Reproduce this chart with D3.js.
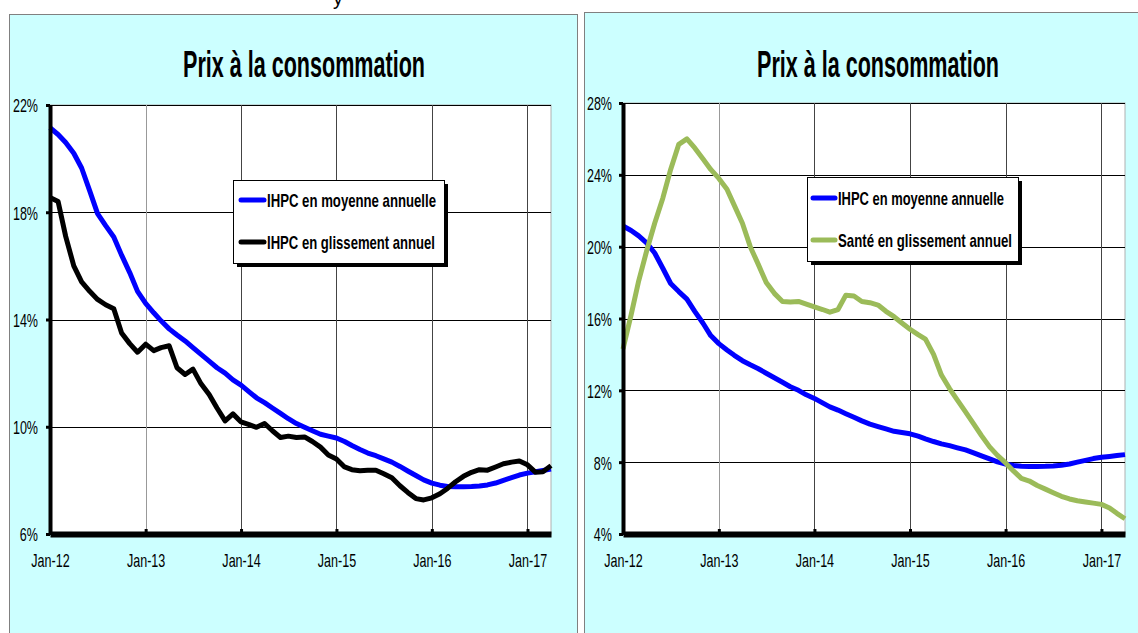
<!DOCTYPE html>
<html>
<head>
<meta charset="utf-8">
<script src="https://cdn.jsdelivr.net/npm/d3@7"></script>
<style>
body { margin: 0; background: #fff; }
svg { display: block; font-family: "Liberation Sans", Arial, sans-serif; }
</style>
</head>
<body>
<div id="chart"></div>
<script>
// monthly values, Jan-12 .. Apr-17 (64 months), in %
var ihpcMoyenne = [21.15, 20.9, 20.6, 20.2, 19.65, 18.8, 17.95, 17.5, 17.08, 16.4,
    15.75, 15.05, 14.6, 14.25, 13.95, 13.65, 13.42, 13.2, 12.95, 12.7,
    12.45, 12.2, 12.0, 11.75, 11.55, 11.3, 11.08, 10.9, 10.7, 10.5,
    10.3, 10.12, 9.98, 9.85, 9.72, 9.65, 9.58, 9.45, 9.3, 9.15,
    9.02, 8.92, 8.8, 8.68, 8.52, 8.35, 8.18, 8.02, 7.9, 7.82,
    7.77, 7.76, 7.76, 7.77, 7.79, 7.83, 7.9, 8.0, 8.1, 8.2,
    8.27, 8.32, 8.37, 8.42];
var ihpcGlissement = [18.55, 18.4, 17.1, 16.0, 15.4, 15.05, 14.75, 14.55, 14.4, 13.5,
    13.1, 12.78, 13.08, 12.84, 12.95, 13.02, 12.2, 11.95, 12.15, 11.6,
    11.2, 10.7, 10.22, 10.48, 10.18, 10.08, 9.98, 10.12, 9.85, 9.6,
    9.65, 9.6, 9.62, 9.45, 9.24, 8.95, 8.8, 8.5, 8.4, 8.36,
    8.38, 8.38, 8.25, 8.1, 7.8, 7.55, 7.32, 7.27, 7.35, 7.5,
    7.7, 7.95, 8.15, 8.3, 8.4, 8.38, 8.5, 8.62, 8.68, 8.72,
    8.58, 8.3, 8.32, 8.55];
var santeGlissement = [14.3, 16.2, 18.1, 19.8, 21.3, 22.7, 24.3, 25.7, 26.0, 25.5,
    24.9, 24.3, 23.8, 23.2, 22.3, 21.3, 20.0, 19.0, 18.0, 17.4,
    16.95, 16.92, 16.95, 16.8, 16.65, 16.5, 16.35, 16.5, 17.3, 17.25,
    16.95, 16.88, 16.75, 16.4, 16.1, 15.75, 15.4, 15.1, 14.85, 14.0,
    12.85, 12.1, 11.45, 10.8, 10.13, 9.48, 8.85, 8.38, 7.96, 7.5,
    7.1, 6.95, 6.7, 6.5, 6.3, 6.1, 5.95, 5.85, 5.78, 5.72,
    5.65, 5.45, 5.15, 4.85];

var months = d3.timeMonth.range(new Date(2012, 0, 1), new Date(2017, 4, 1));
var xTickDates = [new Date(2012, 0, 1), new Date(2013, 0, 1), new Date(2014, 0, 1),
    new Date(2015, 0, 1), new Date(2016, 0, 1), new Date(2017, 0, 1)];
var xTickLabels = ["Jan-12", "Jan-13", "Jan-14", "Jan-15", "Jan-16", "Jan-17"];
var leftTicks = [6, 10, 14, 18, 22];
var rightTicks = [4, 8, 12, 16, 20, 24, 28];
var titleText = "Prix à la consommation";
var leftLegend = ["IHPC en moyenne annuelle", "IHPC en glissement annuel"];
var rightLegend = ["IHPC en moyenne annuelle", "Santé en glissement annuel"];

var W = 1138, H = 633;
var svg = d3.select("#chart").append("svg")
    .attr("width", W)
    .attr("height", H);

// squeeze text horizontally (narrow font look)
function squeeze(sel, k) {
    sel.each(function () {
        var n = this.getComputedTextLength();
        d3.select(this).attr("textLength", n * k).attr("lengthAdjust", "spacingAndGlyphs");
    });
}

// cut off heading above the panels
svg.append("text")
    .attr("x", 333).attr("y", 5)
    .style("font-size", "20px")
    .text("y");

function drawPanel(cfg) {
    var g = svg.append("g");

    g.append("rect")
        .attr("x", cfg.panel.x + 0.5).attr("y", cfg.panel.y + 0.5)
        .attr("width", cfg.panel.w).attr("height", cfg.panel.h)
        .attr("fill", "#ccffff")
        .attr("stroke", "#808080");

    g.append("text")
        .attr("x", cfg.titleX).attr("y", 77)
        .attr("text-anchor", "middle")
        .attr("textLength", 242).attr("lengthAdjust", "spacingAndGlyphs")
        .style("font-size", "36px").style("font-weight", "bold")
        .text(titleText);

    var x = d3.scaleTime()
        .domain([months[0], months[months.length - 1]])
        .range([cfg.plot.x0, cfg.plot.x1]);
    var y = d3.scaleLinear()
        .domain(cfg.yDomain)
        .range([cfg.plot.y1, cfg.plot.y0]);

    g.append("rect")
        .attr("x", cfg.plot.x0).attr("y", cfg.plot.y0)
        .attr("width", cfg.plot.x1 - cfg.plot.x0).attr("height", cfg.plot.y1 - cfg.plot.y0)
        .attr("fill", "#fff")
        .attr("stroke", "#b0b0b0");

    // gridlines
    g.append("g").selectAll("line")
        .data(cfg.yTicks)
        .enter().append("line")
        .attr("x1", cfg.plot.x0).attr("x2", cfg.plot.x1)
        .attr("y1", function (d) { return Math.round(y(d)) + 0.5; })
        .attr("y2", function (d) { return Math.round(y(d)) + 0.5; })
        .attr("stroke", "#000");
    g.append("g").selectAll("line")
        .data(xTickDates.slice(1))
        .enter().append("line")
        .attr("x1", function (d) { return Math.round(x(d)) + 0.5; })
        .attr("x2", function (d) { return Math.round(x(d)) + 0.5; })
        .attr("y1", cfg.plot.y0).attr("y2", cfg.plot.y1)
        .attr("stroke", function (d, i) { return i == 0 ? "#999" : "#444"; });

    // series
    var line = d3.line()
        .x(function (d, i) { return x(months[i]); })
        .y(function (d) { return y(d); });
    cfg.series.forEach(function (s) {
        g.append("path")
            .datum(s.data)
            .attr("d", line)
            .attr("fill", "none")
            .attr("stroke", s.color)
            .attr("stroke-width", 5)
            .attr("stroke-linejoin", "round");
    });

    // axes
    var yAxis = g.append("g")
        .attr("transform", "translate(" + cfg.plot.x0 + ",0)")
        .call(d3.axisLeft(y).tickValues(cfg.yTicks)
            .tickFormat(function (d) { return d + "%"; })
            .tickSize(4).tickSizeOuter(0).tickPadding(cfg.yPad));
    yAxis.select(".domain").attr("stroke-width", 4);
    yAxis.selectAll(".tick line").attr("stroke-width", 3);
    yAxis.selectAll("text").attr("dy", "0.36em").style("font-size", "19px").attr("fill", "#000");
    squeeze(yAxis.selectAll("text"), 0.66);

    var xAxis = g.append("g")
        .attr("transform", "translate(0," + cfg.plot.y1 + ")")
        .call(d3.axisBottom(x).tickValues(xTickDates)
            .tickFormat(function (d, i) { return xTickLabels[i]; })
            .tickSize(-5).tickSizeOuter(0).tickPadding(20));
    xAxis.select(".domain").attr("stroke-width", 6);
    xAxis.selectAll(".tick line").attr("stroke-width", 3);
    xAxis.selectAll("text").style("font-size", "19px").attr("fill", "#000");
    squeeze(xAxis.selectAll("text"), 0.66);
    g.selectAll(".domain").attr("stroke", "#000");

    // legend
    var L = cfg.legend;
    g.append("rect")
        .attr("x", L.x + 4).attr("y", L.y + 4)
        .attr("width", L.w).attr("height", L.h)
        .attr("fill", "#000");
    g.append("rect")
        .attr("x", L.x + 0.5).attr("y", L.y + 0.5)
        .attr("width", L.w).attr("height", L.h)
        .attr("fill", "#fff").attr("stroke", "#000");
    cfg.series.forEach(function (s, i) {
        g.append("line")
            .attr("x1", L.lx1).attr("x2", L.lx2)
            .attr("y1", L.rows[i]).attr("y2", L.rows[i])
            .attr("stroke", s.color)
            .attr("stroke-width", 5)
            .attr("stroke-linecap", "round");
        g.append("text")
            .attr("x", L.tx).attr("y", L.rows[i] + 7)
            .attr("textLength", L.widths[i]).attr("lengthAdjust", "spacingAndGlyphs")
            .style("font-size", "19px").style("font-weight", "bold")
            .text(L.labels[i]);
    });
}

drawPanel({
    panel: {x: 9, y: 14, w: 568, h: 640},
    plot: {x0: 50, x1: 551, y0: 105, y1: 534},
    titleX: 304,
    yDomain: [6, 22],
    yTicks: leftTicks,
    yPad: 8,
    series: [{data: ihpcMoyenne, color: "#0000ff"}, {data: ihpcGlissement, color: "#000"}],
    legend: {x: 233, y: 180, w: 211, h: 83, lx1: 241, lx2: 264, tx: 267,
        rows: [200, 242], widths: [169, 168], labels: leftLegend}
});

drawPanel({
    panel: {x: 584, y: 12, w: 560, h: 640},
    plot: {x0: 623, x1: 1125, y0: 103, y1: 534},
    titleX: 878,
    yDomain: [4, 28],
    yTicks: rightTicks,
    yPad: 7,
    series: [{data: ihpcMoyenne, color: "#0000ff"}, {data: santeGlissement, color: "#9bbb59"}],
    legend: {x: 807, y: 177, w: 211, h: 84, lx1: 813, lx2: 835, tx: 838,
        rows: [198, 240], widths: [166, 174], labels: rightLegend}
});
</script>
</body>
</html>
